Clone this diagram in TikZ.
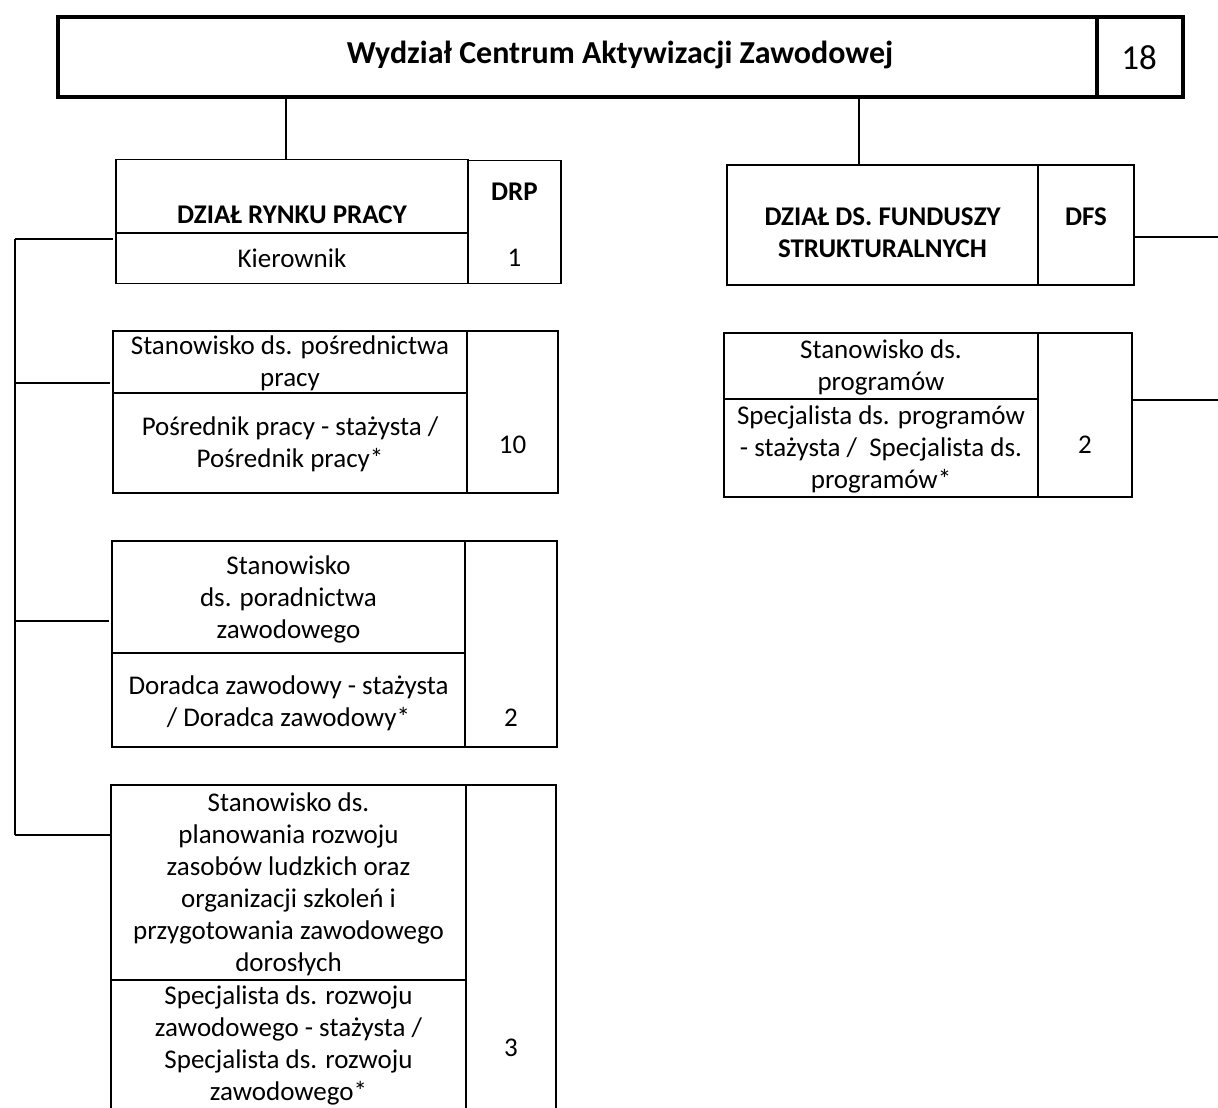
\documentclass[tikz,border=0pt]{standalone}
\usepackage{fontspec}
\setmainfont{Carlito}
\begin{document}
\begin{tikzpicture}[x=1pt,y=-1pt,line width=1.3pt,
  cell/.style={draw,rectangle,inner sep=0pt,outer sep=0pt},
  thickcell/.style={cell,line width=4pt},
  txt/.style={inner sep=0pt,align=center,font=\fontsize{27}{32}\selectfont},
  hdr/.style={inner sep=0pt,align=center,font=\fontsize{27}{32}\selectfont\bfseries},
  conn/.style={draw,line width=1.3pt}]
\clip (0,0) rectangle (1218,1108);
\fill[white] (0,0) rectangle (1218,1108);
% top box
\node[thickcell,minimum width=1039pt,minimum height=80pt] (title) at (577.5,57) {};
\node[thickcell,minimum width=86pt,minimum height=80pt] (total) at (1140,57) {};
\node[inner sep=0pt,font=\fontsize{32}{38}\selectfont\bfseries] (titletxt) at (620,55) {Wydział Centrum Aktywizacji Zawodowej};
\node[inner sep=0pt,font=\fontsize{35}{40}\selectfont] (totaltxt) at (1139,58) {18};
% DRP
\node[cell,minimum width=352pt,minimum height=73pt] (drpA) at (292,196) {};
\node[cell,minimum width=352pt,minimum height=50pt] (drpB) at (292,258.5) {};
\node[cell,minimum width=93pt,minimum height=123pt] (drpC) at (514.5,222) {};
\node[hdr] (drpAt) at (292,215) {DZIAŁ RYNKU PRACY};
\node[txt] (drpBt) at (292,258) {Kierownik};
\node[hdr] (drpCt) at (514.5,192) {DRP};
\node[txt] (drpCt2) at (514.5,258) {1};
% Posrednictwo
\node[cell,minimum width=354pt,minimum height=62pt] (posA) at (290,362) {};
\node[cell,minimum width=354pt,minimum height=100pt] (posB) at (290,443) {};
\node[cell,minimum width=91pt,minimum height=162pt] (posC) at (512.5,412) {};
\node[txt] (posAt) at (290,363) {Stanowisko ds. pośrednictwa\\pracy};
\node[txt] (posBt) at (290,444) {Pośrednik pracy - stażysta /\\Pośrednik pracy*};
\node[txt] (posCt) at (512.5,445) {10};
% Poradnictwo
\node[cell,minimum width=353pt,minimum height=112pt] (porA) at (288.5,597) {};
\node[cell,minimum width=353pt,minimum height=94pt] (porB) at (288.5,700) {};
\node[cell,minimum width=92pt,minimum height=206pt] (porC) at (511,644) {};
\node[txt] (porAt) at (288.5,599) {Stanowisko\\ds. poradnictwa\\zawodowego};
\node[txt] (porBt) at (288.5,703) {Doradca zawodowy - stażysta\\/ Doradca zawodowy*};
\node[txt] (porCt) at (511,718) {2};
% bottom box
\node[cell,minimum width=355pt,minimum height=195pt] (botA) at (288.5,882.5) {};
\node[cell,minimum width=355pt,minimum height=150pt] (botB) at (288.5,1055) {};
\node[cell,minimum width=90pt,minimum height=345pt] (botC) at (511,957.5) {};
\node[txt] (botAt) at (288.5,884) {Stanowisko ds.\\planowania rozwoju\\zasobów ludzkich oraz\\organizacji szkoleń i\\przygotowania zawodowego\\dorosłych};
\node[txt] (botBt) at (288.5,1045) {Specjalista ds. rozwoju\\zawodowego - stażysta /\\Specjalista ds. rozwoju\\zawodowego*};
\node[txt] (botCt) at (511,1048) {3};
% DFS
\node[cell,minimum width=311pt,minimum height=120pt] (dfsA) at (882.5,225) {};
\node[cell,minimum width=96pt,minimum height=120pt] (dfsB) at (1086,225) {};
\node[hdr] (dfsAt) at (882.5,233) {DZIAŁ DS. FUNDUSZY\\STRUKTURALNYCH};
\node[hdr] (dfsBt) at (1086,217) {DFS};
% Programy
\node[cell,minimum width=314pt,minimum height=66pt] (prgA) at (881,366) {};
\node[cell,minimum width=314pt,minimum height=98pt] (prgB) at (881,448) {};
\node[cell,minimum width=94pt,minimum height=164pt] (prgC) at (1085,415) {};
\node[txt] (prgAt) at (881,367) {Stanowisko ds.\\programów};
\node[txt] (prgBt) at (881,449) {Specjalista ds. programów\\- stażysta /~ Specjalista ds.\\programów*};
\node[txt] (prgCt) at (1085,445) {2};
% bus coordinates
\coordinate (busTop) at (15,239);
\coordinate (busBot) at (15,835);
\coordinate (rEnd1) at (1218,237);
\coordinate (rEnd2) at (1218,400);
% connectors
\draw[conn] (title.south -| 286,0) -- (drpA.north -| 286,0);
\draw[conn] (title.south -| 859,0) -- (dfsA.north -| 859,0);
\draw[conn] (busTop) -- (busBot);
\draw[conn,shorten >=3pt] (busTop) -- (busTop -| drpB.west);
\draw[conn,shorten >=3pt] (busTop |- 0,383) -- (posA.west |- 0,383);
\draw[conn,shorten >=3pt] (busTop |- 0,621) -- (porA.west |- 0,621);
\draw[conn] (busBot) -- (busBot -| botA.west);
\draw[conn] (dfsB.east |- rEnd1) -- (rEnd1);
\draw[conn] (prgC.east |- rEnd2) -- (rEnd2);
\end{tikzpicture}
\end{document}
